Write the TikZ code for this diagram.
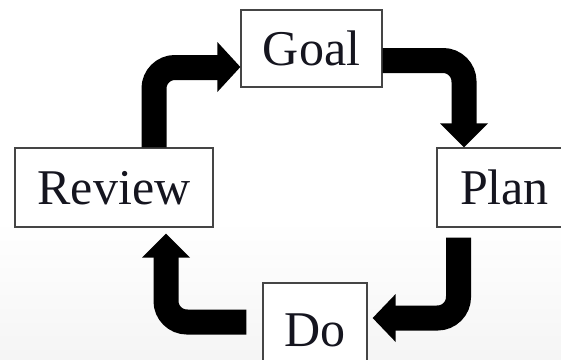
\documentclass[tikz,border=0pt]{standalone}
\usepackage{fontspec}
\setmainfont{Liberation Serif}
\usetikzlibrary{calc}
\definecolor{boxline}{HTML}{454545}
\definecolor{txt}{HTML}{15151F}
\tikzset{
  stagebox/.style={draw=boxline, line width=1.3pt, fill=white, inner sep=0pt,
    text height=33pt, text depth=0pt, text=txt,
    font=\fontsize{50}{60}\selectfont},
  shaft/.style={line width=25pt, line cap=butt, rounded corners=21pt, black},
  headfill/.style={fill=black}
}
\begin{document}
\begin{tikzpicture}[x=1pt, y=-1pt]
\useasboundingbox (0,0) rectangle (561,359);
\shade[top color=white, bottom color=black!4] (0,220) rectangle (561,359);
% boxes
\node[stagebox, minimum width=141pt, minimum height=77pt] (goal) at (311.5,48.5) {Goal};
\node[stagebox, minimum width=198pt, minimum height=79pt] (review) at (114,187.5) {Review};
\node[stagebox, minimum width=135pt, minimum height=79pt] (plan) at (504.5,187.5) {Plan};
\node[stagebox, minimum width=104pt, minimum height=94pt] (do) at (315,330) {Do};
% Review -> Goal
\draw[shaft] ($(review.north)+(40,0)$) |- ($(goal.west)+(-22,19)$);
\fill[headfill] ($(goal.west)+(-23,-6.5)$) -- ($(goal.west)+(-23,43.5)$) -- ($(goal.west)+(0,18.5)$) -- cycle;
% Goal -> Plan
\draw[shaft] ($(goal.east)+(0,12)$) -| ($(plan.north)+(-40.5,-23)$);
\fill[headfill] ($(plan.north)+(-64.5,-24)$) -- ($(plan.north)+(-16.5,-24)$) -- ($(plan.north)+(-40.5,0)$) -- cycle;
% Plan -> Do
\draw[shaft] ($(plan.south)+(-46,10)$) |- ($(do.east)+(27,-12)$);
\fill[headfill] ($(do.east)+(28,-36)$) -- ($(do.east)+(28,12)$) -- ($(do.east)+(5,-12)$) -- cycle;
% Do -> Review
\draw[shaft] ($(do.west)+(-16,-8)$) -| ($(review.south)+(52,29)$);
\fill[headfill] ($(review.south)+(28,30)$) -- ($(review.south)+(76,30)$) -- ($(review.south)+(52,6)$) -- cycle;
\end{tikzpicture}
\end{document}
